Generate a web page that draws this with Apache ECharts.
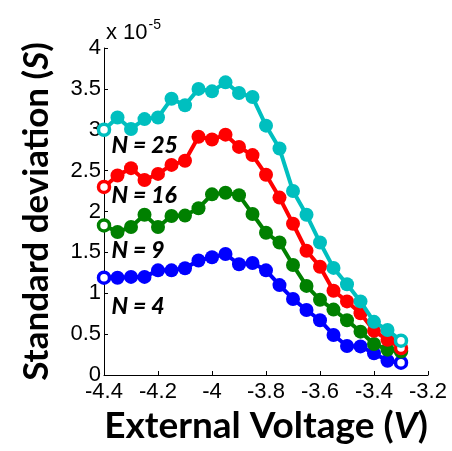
<!DOCTYPE html>
<html>
<head>
<meta charset="utf-8">
<script src="https://cdn.jsdelivr.net/npm/echarts@6/dist/echarts.min.js"></script>
<style>
  html, body { margin: 0; padding: 0; background: #fff; }
  #chart { width: 452px; height: 451px; }
</style>
</head>
<body>
<div id="chart"></div>
<script>
// external voltage (V), one point every 0.05 V
const voltage = [-4.40, -4.35, -4.30, -4.25, -4.20, -4.15, -4.10, -4.05, -4.00, -3.95, -3.90, -3.85,
  -3.80, -3.75, -3.70, -3.65, -3.60, -3.55, -3.50, -3.45, -3.40, -3.35, -3.30];

// standard deviation, in units of 1e-5 S
const n25 = [3.00, 3.15, 3.01, 3.13, 3.15, 3.38, 3.30, 3.50, 3.47, 3.58, 3.45, 3.40,
  3.05, 2.77, 2.25, 1.96, 1.62, 1.31, 1.11, 0.90, 0.65, 0.55, 0.42];
const n16 = [2.30, 2.44, 2.53, 2.385, 2.46, 2.57, 2.62, 2.915, 2.88, 2.94, 2.79, 2.69,
  2.45, 2.17, 1.85, 1.52, 1.325, 1.03, 0.90, 0.755, 0.54, 0.43, 0.33];
const n9 = [1.83, 1.75, 1.81, 1.96, 1.81, 1.945, 1.95, 2.04, 2.21, 2.23, 2.20, 1.97,
  1.74, 1.62, 1.345, 1.09, 0.92, 0.80, 0.67, 0.53, 0.38, 0.31, 0.29];
const n4 = [1.19, 1.19, 1.20, 1.20, 1.28, 1.28, 1.305, 1.40, 1.44, 1.48, 1.355, 1.37,
  1.28, 1.10, 0.93, 0.795, 0.67, 0.49, 0.355, 0.35, 0.265, 0.175, 0.15];

const xTicks = [-4.4, -4.2, -4, -3.8, -3.6, -3.4, -3.2];
const yTicks = [0, 0.5, 1, 1.5, 2, 2.5, 3, 3.5, 4];

const seriesNames = ["N = 25", "N = 16", "N = 9", "N = 4"];
const seriesValues = [n25, n16, n9, n4];
const seriesColors = ["#00bfbf", "#ff0000", "#008000", "#0000ff"];
// where each N label sits, in data units [V, 1e-5 S]
const labelAt = [[-4.372, 2.81], [-4.372, 2.20], [-4.372, 1.52], [-4.372, 0.84]];

const tickFont = "Liberation Sans";
const titleFont = "Lato";

function buildData(values, color) {
  return values.map((v, i) => {
    const item = { value: [voltage[i], v] };
    // first and last points are drawn as open circles
    if (i === 0 || i === values.length - 1) {
      item.itemStyle = { color: "#fff", borderColor: color, borderWidth: 3.5 };
      item.symbolSize = 11;
    }
    return item;
  });
}

function titleRich(size) {
  return {
    b: { fontFamily: titleFont, fontWeight: "bold", fontSize: size, color: "#000" },
    i: { fontFamily: titleFont, fontWeight: "bold", fontStyle: "italic", fontSize: size, color: "#000" },
  };
}

const chart = echarts.init(document.getElementById("chart"));

const option = {
  animation: false,
  backgroundColor: "#fff",
  grid: { left: 104, top: 48, right: 24, bottom: 76 },
  xAxis: {
    type: "value",
    min: xTicks[0],
    max: xTicks[xTicks.length - 1],
    interval: 0.2,
    name: "{b|External Voltage (}{i|V}{b|)}",
    nameLocation: "middle",
    nameGap: 33,
    nameTextStyle: { rich: titleRich(37) },
    axisLine: { lineStyle: { color: "#000", width: 1 } },
    axisTick: { inside: true, length: 4, lineStyle: { color: "#000" } },
    axisLabel: { color: "#000", fontFamily: tickFont, fontSize: 22, margin: 6 },
    splitLine: { show: false },
  },
  yAxis: {
    type: "value",
    min: yTicks[0],
    max: yTicks[yTicks.length - 1],
    interval: 0.5,
    name: "{b|Standard deviation (}{i|S}{b|)}",
    nameLocation: "middle",
    nameRotate: 90,
    nameGap: 50,
    nameTextStyle: { rich: titleRich(35) },
    axisLine: { show: true, lineStyle: { color: "#000", width: 1 } },
    axisTick: { show: true, inside: true, length: 4, lineStyle: { color: "#000" } },
    axisLabel: { color: "#000", fontFamily: tickFont, fontSize: 22, margin: 3 },
    splitLine: { show: false },
  },
  series: seriesValues.map((vals, k) => ({
    name: seriesNames[k],
    type: "line",
    data: buildData(vals, seriesColors[k]),
    symbol: "circle",
    symbolSize: 14,
    showAllSymbol: true,
    lineStyle: { color: seriesColors[k], width: 4 },
    itemStyle: { color: seriesColors[k] },
    z: 10 - k,
  })),
};

chart.setOption(option);

// N labels and the axis multiplier, placed through the axes
const graphics = seriesNames.map((name, k) => {
  const p = chart.convertToPixel({ gridIndex: 0 }, labelAt[k]);
  return {
    type: "text",
    x: p[0],
    y: p[1],
    z: 100,
    style: {
      text: name,
      font: "italic 900 23px " + titleFont,
      fill: "#000",
      textVerticalAlign: "middle",
    },
  };
});
const corner = chart.convertToPixel({ gridIndex: 0 }, [xTicks[0], yTicks[yTicks.length - 1]]);
graphics.push({
  type: "text",
  x: corner[0] + 2,
  y: corner[1] - 4,
  style: {
    text: "{a|x 10}{s|-5}",
    textVerticalAlign: "bottom",
    rich: {
      a: { fontFamily: tickFont, fontSize: 22, color: "#000", verticalAlign: "bottom" },
      s: { fontFamily: tickFont, fontSize: 14, color: "#000", verticalAlign: "top", padding: [0, 0, 12, 1] },
    },
  },
});
chart.setOption({ graphic: graphics });
</script>
</body>
</html>
